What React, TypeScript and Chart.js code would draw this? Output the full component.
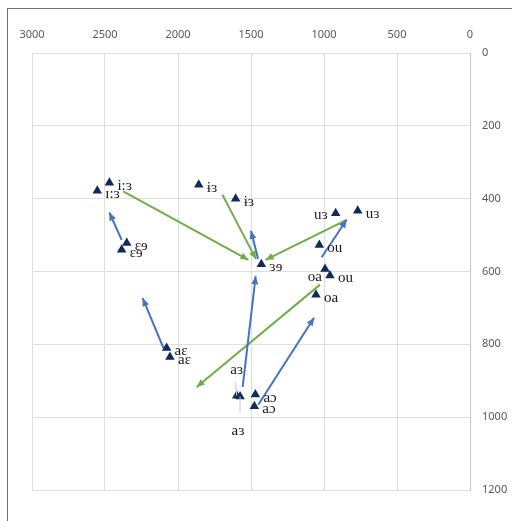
import React, { useEffect, useRef } from "react";
import { Chart, registerables } from "chart.js";

Chart.register(...registerables);

// Vowel points (F2 on x, F1 on y)
const vowelLabels = ["i:ɜ", "ɪ:ɜ", "ɨɜ", "ɨɜ", "ɛɘ", "ɛɘ", "ɜɘ", "uɜ", "uɜ", "ou", "oa", "ou", "oa", "aɛ", "aɛ", "aɜ", "aɜ", "aɔ", "aɔ"];
const f2Values = [2470, 2553, 1858, 1605, 2351, 2386, 1429, 920, 769, 1032, 993, 959, 1055, 2078, 2055, 1598, 1575, 1470, 1477];
const f1Values = [356, 378, 362, 400, 522, 540, 580, 440, 433, 527, 593, 611, 664, 810, 835, 941, 943, 938, 970];
const labelSides = ["r", "r", "r", "r", "r", "r", "r", "l", "r", "r", "lb", "r", "r", "r", "r", "a", "b", "r", "r"];

// Arrows: [fromF2, fromF1, toF2, toF1]
const blueArrows = [
  [2386, 513, 2470, 438],
  [1452, 565, 1500, 488],
  [1557, 917, 1468, 613],
  [1450, 966, 1068, 727],
  [2100, 810, 2242, 673],
  [1016, 561, 845, 458],
];
const greenArrows = [
  [2375, 380, 1518, 568],
  [1696, 389, 1466, 566],
  [845, 458, 1400, 568],
  [1027, 636, 1872, 917],
];

const xTicks = [3000, 2500, 2000, 1500, 1000, 500, 0];
const yTicks = [0, 200, 400, 600, 800, 1000, 1200];

const BLUE = "#4472C4";
const GREEN = "#70AD47";
const NAVY = "#102a5e";

const overlayPlugin = {
  id: "overlay",
  afterDatasetsDraw(chart: any) {
    const ctx = chart.ctx;
    chart.data.datasets.forEach((ds: any, i: number) => {
      if (!ds.isArrow) return;
      const meta = chart.getDatasetMeta(i);
      const p0 = meta.data[0];
      const p1 = meta.data[1];
      const ang = Math.atan2(p1.y - p0.y, p1.x - p0.x);
      const L = 8;
      const W = 3.5;
      const bx = p1.x - Math.cos(ang) * L;
      const by = p1.y - Math.sin(ang) * L;
      ctx.save();
      ctx.fillStyle = ds.borderColor;
      ctx.beginPath();
      ctx.moveTo(p1.x, p1.y);
      ctx.lineTo(bx - Math.sin(ang) * W, by + Math.cos(ang) * W);
      ctx.lineTo(bx + Math.sin(ang) * W, by - Math.cos(ang) * W);
      ctx.closePath();
      ctx.fill();
      ctx.restore();
    });
    const meta = chart.getDatasetMeta(0);
    ctx.save();
    ctx.font = "15px 'Liberation Serif', 'DejaVu Serif', serif";
    ctx.fillStyle = "#1a1a1a";
    ctx.textBaseline = "middle";
    meta.data.forEach((pt: any, j: number) => {
      const side = labelSides[j];
      const txt = vowelLabels[j];
      if (side === "r") {
        ctx.textAlign = "left";
        ctx.fillText(txt, pt.x + 8, pt.y + 3);
      } else if (side === "l") {
        ctx.textAlign = "right";
        ctx.fillText(txt, pt.x - 8, pt.y + 2);
      } else if (side === "lb") {
        ctx.textAlign = "right";
        ctx.fillText(txt, pt.x - 3, pt.y + 8);
      } else if (side === "a") {
        ctx.textAlign = "center";
        ctx.fillText(txt, pt.x, pt.y - 26);
        ctx.strokeStyle = "#c8c8c8";
        ctx.lineWidth = 1;
        ctx.beginPath();
        ctx.moveTo(pt.x - 1, pt.y - 14);
        ctx.lineTo(pt.x, pt.y);
        ctx.stroke();
      } else if (side === "b") {
        ctx.textAlign = "center";
        ctx.fillText(txt, pt.x - 2, pt.y + 35);
        ctx.strokeStyle = "#c8c8c8";
        ctx.lineWidth = 1;
        ctx.beginPath();
        ctx.moveTo(pt.x, pt.y);
        ctx.lineTo(pt.x, pt.y + 16);
        ctx.stroke();
      }
    });
    ctx.restore();
  },
};

function arrowDataset(a: number[], color: string) {
  return {
    isArrow: true,
    data: [
      { x: a[0], y: a[1] },
      { x: a[2], y: a[3] },
    ],
    showLine: true,
    borderColor: color,
    backgroundColor: color,
    borderWidth: 2,
    pointRadius: 0,
    pointHoverRadius: 0,
  };
}

export default function App() {
  const ref = useRef<HTMLCanvasElement | null>(null);

  useEffect(() => {
    if (!ref.current) return;
    const points = f2Values.map((x, i) => ({ x, y: f1Values[i] }));
    const tickFont = { family: "'Noto Sans', 'Liberation Sans', sans-serif", size: 11 };
    const chart = new Chart(ref.current, {
      type: "scatter",
      data: {
        datasets: [
          {
            data: points,
            pointStyle: "triangle",
            pointRadius: 5.5,
            backgroundColor: NAVY,
            borderColor: NAVY,
            borderWidth: 0,
          } as any,
          ...blueArrows.map((a) => arrowDataset(a, BLUE)),
          ...greenArrows.map((a) => arrowDataset(a, GREEN)),
        ],
      },
      options: {
        responsive: false,
        animation: false,
        layout: { padding: { left: 32, top: 0, right: 0, bottom: 31 } },
        plugins: {
          legend: { display: false },
          tooltip: { enabled: false },
        },
        scales: {
          x: {
            type: "linear",
            position: "top",
            reverse: true,
            min: 0,
            max: 3000,
            afterBuildTicks: (s: any) => {
              s.ticks = xTicks.map((v) => ({ value: v }));
            },
            afterFit: (s: any) => {
              s.height = 53;
            },
            grid: { color: "#dedede", drawTicks: false, lineWidth: 1 },
            border: { display: false },
            ticks: {
              color: "#595959",
              padding: 12,
              maxRotation: 0,
              font: tickFont,
              callback: (v: any) => String(v),
            },
          },
          y: {
            type: "linear",
            position: "right",
            reverse: true,
            min: 0,
            max: 1200,
            afterBuildTicks: (s: any) => {
              s.ticks = yTicks.map((v) => ({ value: v }));
            },
            afterFit: (s: any) => {
              s.width = 42;
            },
            grid: { color: "#dedede", drawTicks: false, lineWidth: 1 },
            border: { display: true, color: "#c4c4c4" },
            ticks: {
              color: "#595959",
              padding: 12,
              font: tickFont,
              callback: (v: any) => String(v),
            },
          },
        },
      },
      plugins: [overlayPlugin],
    } as any);
    return () => chart.destroy();
  }, []);

  return (
    <div
      style={{
        position: "fixed",
        left: 0,
        top: 0,
        width: 512,
        height: 521,
        overflow: "hidden",
        background: "#ffffff",
      }}
    >
      <div
        style={{
          position: "absolute",
          left: 7,
          top: 8,
          width: 600,
          height: 600,
          border: "1px solid #6e6e6e",
        }}
      />
      <canvas
        ref={ref}
        width={512}
        height={521}
        style={{ position: "absolute", left: 0, top: 0, width: 512, height: 521 }}
      />
    </div>
  );
}
